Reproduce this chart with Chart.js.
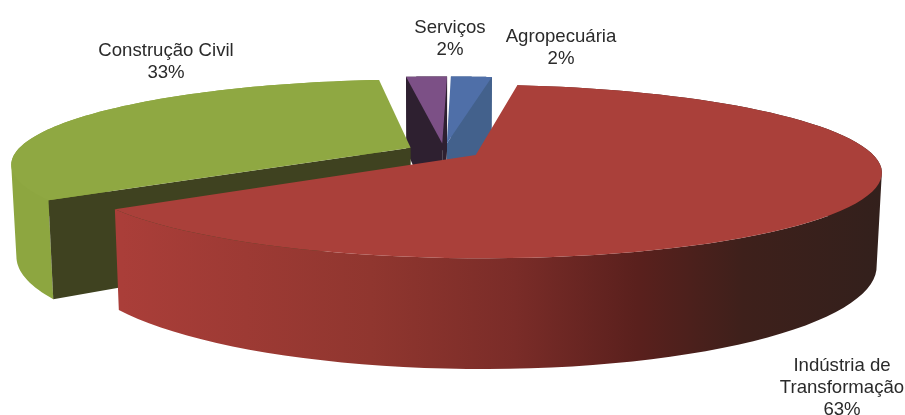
<!DOCTYPE html>
<html>
<head>
<meta charset="utf-8">
<title>Pizza 3D</title>
<script src="https://cdn.jsdelivr.net/npm/chart.js@4"></script>
<style>
  html, body { margin: 0; background: #fff; }
  canvas { display: block; }
</style>
</head>
<body>
<canvas id="pie" width="905" height="415"></canvas>
<script>
const categories = [['Indústria de', 'Transformação'], 'Construção Civil', 'Serviços', 'Agropecuária'];
const shares = [63, 33, 2, 2];

const topColors = ['#aa403a', '#8fa842', '#7c5086', '#4f6fa8'];
const cutColors = ['#8a302c', '#3f4220', '#2e2030', '#43618c'];
const rimColors = [null, '#8da640', '#2e2030', '#43618c'];
const redRim = [[0, '#aa3e39'], [0.33, '#90362f'], [0.52, '#7a2c28'], [0.68, '#5a201d'], [0.82, '#3e201b'], [1, '#33201c']];

// label centre x and first baseline y, per slice
const labelPos = [[842, 371], [166, 56], [450, 33], [561, 42]];

// perspective of the disc, fitted by eye
const view = { cx: 444, cy: 151, f: 2100, g: 438, h: 460, d: 5.17, r: 0.97, shrink: 0.988 };

function project(x, z, low) {
  const k = 1 / (view.d - z);
  if (low) return [view.cx + view.f * view.shrink * x * k, view.cy + (view.g * z + view.h) * k];
  return [view.cx + view.f * x * k, view.cy + view.g * z * k];
}

function trace(ctx, pts) {
  pts.forEach((p, i) => i ? ctx.lineTo(p[0], p[1]) : ctx.moveTo(p[0], p[1]));
  ctx.closePath();
}

function poly(ctx, pts, fill) {
  ctx.beginPath();
  trace(ctx, pts);
  ctx.fillStyle = fill;
  ctx.fill();
}

function area(pts) {
  return pts.reduce((sum, p, i) => {
    const q = pts[(i + 1) % pts.length];
    return sum + p[0] * q[1] - q[0] * p[1];
  }, 0);
}

function drawSlice(ctx, arc, i) {
  const a0 = arc.startAngle + Math.PI / 2, a1 = arc.endAngle + Math.PI / 2, mid = (a0 + a1) / 2;
  const e = arc.options.offset / arc.outerRadius;
  const ax = Math.sin(mid) * e, az = -Math.cos(mid) * e;
  const top = [], low = [];
  const steps = 90;
  for (let s = 0; s <= steps; s++) {
    const t = a0 + (a1 - a0) * s / steps;
    const x = ax + Math.sin(t) * view.r, z = az - Math.cos(t) * view.r;
    top.push(project(x, z, false));
    low.push(project(x, z, true));
  }
  const apexTop = project(ax, az, false), apexLow = project(ax, az, true);

  let rim = rimColors[i];
  if (!rim) {
    rim = ctx.createLinearGradient(121, 0, 880, 0);
    redRim.forEach(s => rim.addColorStop(s[0], s[1]));
  }
  // rim as one path of strips, all wound the same way so they add up
  ctx.beginPath();
  for (let s = 0; s < steps; s++) {
    const strip = [top[s], top[s + 1], low[s + 1], low[s]];
    trace(ctx, area(strip) < 0 ? strip.reverse() : strip);
  }
  ctx.fillStyle = rim;
  ctx.fill();

  // a cut face only shows when it turns towards the viewer
  const towardViewer = (nx, nz) => nx * -ax + nz * (view.d - az) > 0;
  if (towardViewer(-Math.cos(a0), -Math.sin(a0))) {
    poly(ctx, [apexTop, top[0], low[0], apexLow], cutColors[i]);
  }
  if (towardViewer(Math.cos(a1), Math.sin(a1))) {
    poly(ctx, [apexTop, top[steps], low[steps], apexLow], cutColors[i]);
  }
  poly(ctx, [apexTop].concat(top), arc.options.backgroundColor);
}

const pie3d = {
  id: 'pie3d',
  beforeDatasetDraw(chart) {
    const ctx = chart.ctx;
    const arcs = chart.getDatasetMeta(0).data;
    ctx.save();
    for (let i = arcs.length - 1; i >= 0; i--) drawSlice(ctx, arcs[i], i);
    ctx.restore();
    return false;
  },
  afterDraw(chart) {
    const ctx = chart.ctx;
    ctx.save();
    ctx.font = '18.6px "Liberation Sans", Arial, sans-serif';
    ctx.fillStyle = '#2a2a2a';
    ctx.textAlign = 'center';
    categories.forEach((cat, i) => {
      const lines = [].concat(cat, shares[i] + '%');
      lines.forEach((txt, n) => ctx.fillText(txt, labelPos[i][0], labelPos[i][1] + n * 22));
    });
    ctx.restore();
  }
};

new Chart(document.getElementById('pie'), {
  type: 'pie',
  plugins: [pie3d],
  data: {
    labels: categories,
    datasets: [{ data: shares, backgroundColor: topColors, borderWidth: 0, offset: 18 }]
  },
  options: {
    responsive: false,
    animation: false,
    rotation: 8,
    layout: { padding: 0 },
    plugins: { legend: { display: false }, tooltip: { enabled: false } }
  }
});
</script>
</body>
</html>
